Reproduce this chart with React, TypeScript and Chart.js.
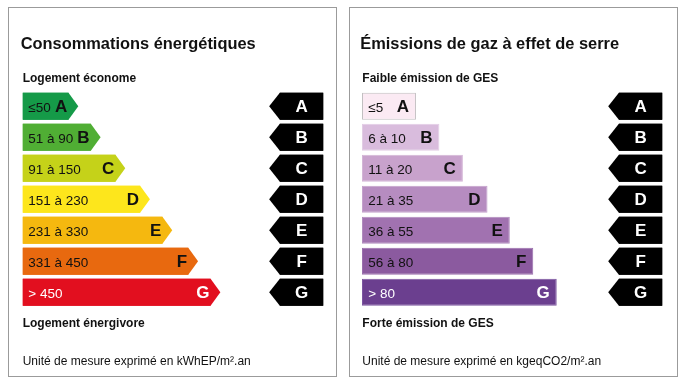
import React, { useEffect, useRef } from "react";
import { Chart, registerables } from "chart.js";

Chart.register(...registerables);

const FONT = '"Liberation Sans", Arial, Helvetica, sans-serif';

// ---- data ----
const classes = ["A", "B", "C", "D", "E", "F", "G"];

const energyTitle = "Consommations énergétiques";
const energyTop = "Logement économe";
const energyBottom = "Logement énergivore";
const energyUnit = "Unité de mesure exprimé en kWhEP/m².an";
const energyRanges = ["≤50", "51 à 90", "91 à 150", "151 à 230", "231 à 330", "331 à 450", "> 450"];
const energyLengths = [1.95, 2.9, 3.95, 5, 5.95, 7.05, 8];

const gesTitle = "Émissions de gaz à effet de serre";
const gesTop = "Faible émission de GES";
const gesBottom = "Forte émission de GES";
const gesUnit = "Unité de mesure exprimé en kgeqCO2/m².an";
const gesRanges = ["≤5", "6 à 10", "11 à 20", "21 à 35", "36 à 55", "56 à 80", "> 80"];
const gesLengths = [2.3, 3.3, 4.3, 5.35, 6.3, 7.3, 8.3];

const markerSpan = [10.95, 12.8];
const scaleMax = 12.8;

// ---- styles ----
const energyColors = ["#159a48", "#50ae34", "#c5d219", "#fde61c", "#f5b80f", "#e8690f", "#e20f1f"];
const energyText = ["#111", "#111", "#111", "#111", "#111", "#111", "#fff"];
const gesColors = ["#fbeaf3", "#d9bcdd", "#c8a2cc", "#b68cc0", "#a172b0", "#8b5a9f", "#6b3f8f"];
const gesBorders = ["#c2bfc1", "#e2cde5", "#d3b5d6", "#c4a1cc", "#b08bbd", "#9a6fad", "#7c55a0"];
const gesText = ["#111", "#111", "#111", "#111", "#111", "#111", "#fff"];

type PanelOpts = {
  title: string;
  top: string;
  bottom: string;
  unit: string;
  ranges: string[];
  colors: string[];
  textColors: string[];
  tip: number;
  rangeInset: number;
  letterInset: number;
  textX: number;
  titleX: number;
};

const dpePlugin = {
  id: "dpe",
  afterDatasetsDraw(chart: any, _args: any, o: PanelOpts) {
    const ctx: CanvasRenderingContext2D = chart.ctx;
    const bars = chart.getDatasetMeta(0).data;
    const marks = chart.getDatasetMeta(1).data;
    ctx.save();
    bars.forEach((el: any, i: number) => {
      const { x, y, base, height } = el.getProps(["x", "y", "base", "height"], true);
      const t = y - height / 2;
      const b = y + height / 2;
      if (o.tip > 0) {
        ctx.fillStyle = o.colors[i];
        ctx.beginPath();
        ctx.moveTo(base, t);
        ctx.lineTo(x, t);
        ctx.lineTo(x + o.tip, y);
        ctx.lineTo(x, b);
        ctx.lineTo(base, b);
        ctx.closePath();
        ctx.fill();
      }
      ctx.fillStyle = o.textColors[i];
      ctx.textAlign = "left";
      ctx.textBaseline = "alphabetic";
      ctx.font = `13.5px ${FONT}`;
      ctx.fillText(o.ranges[i], base + o.rangeInset, y + 5.3);
      ctx.textAlign = "right";
      ctx.font = `bold 17px ${FONT}`;
      ctx.fillText(classes[i], x - o.letterInset, y + 6.1);
    });
    marks.forEach((el: any, i: number) => {
      const { x, y, base, height } = el.getProps(["x", "y", "base", "height"], true);
      const l = Math.min(x, base);
      const r = Math.max(x, base);
      const t = y - height / 2;
      const b = y + height / 2;
      ctx.fillStyle = "#000";
      ctx.beginPath();
      ctx.moveTo(r, t);
      ctx.lineTo(l, t);
      ctx.lineTo(l - 10.7, y);
      ctx.lineTo(l, b);
      ctx.lineTo(r, b);
      ctx.closePath();
      ctx.fill();
      ctx.fillStyle = "#fff";
      ctx.textAlign = "center";
      ctx.font = `bold 17px ${FONT}`;
      ctx.fillText(classes[i], (l + r) / 2, y + 6);
    });
    // texts
    ctx.fillStyle = "#111";
    ctx.textAlign = "left";
    ctx.font = `bold 16.4px ${FONT}`;
    ctx.fillText(o.title, o.titleX, 41.3);
    ctx.font = `bold 12px ${FONT}`;
    ctx.fillText(o.top, o.textX, 73.7);
    ctx.fillText(o.bottom, o.textX, 319.3);
    ctx.font = `12px ${FONT}`;
    ctx.fillText(o.unit, o.textX, 356.5);
    ctx.restore();
  },
};

function makeConfig(
  lengths: number[],
  colors: string[],
  borders: string[] | null,
  padding: { left: number; right: number },
  opts: PanelOpts
): any {
  return {
    type: "bar",
    data: {
      labels: classes,
      datasets: [
        {
          data: lengths,
          backgroundColor: colors,
          borderColor: borders || colors,
          borderWidth: borders ? 1 : 0,
          grouped: false,
          barPercentage: 0.87,
          categoryPercentage: 1,
          borderSkipped: false,
        },
        {
          data: classes.map(() => markerSpan),
          backgroundColor: "#000",
          borderWidth: 0,
          grouped: false,
          barPercentage: 0.87,
          categoryPercentage: 1,
        },
      ],
    },
    options: {
      indexAxis: "y",
      responsive: false,
      animation: false,
      events: [],
      layout: { padding: { left: padding.left, right: padding.right, top: 82.8, bottom: 68.3 } },
      scales: {
        x: { type: "linear", min: 0, max: scaleMax, display: false },
        y: { type: "category", display: false, offset: true },
      },
      plugins: {
        legend: { display: false },
        tooltip: { enabled: false },
        title: { display: false },
        dpe: opts,
      },
    },
    plugins: [dpePlugin],
  };
}

function Panel({ left, config }: { left: number; config: () => any }) {
  const ref = useRef<HTMLCanvasElement>(null);
  useEffect(() => {
    const chart = new Chart(ref.current as HTMLCanvasElement, config());
    return () => chart.destroy();
  }, []);
  return (
    <div
      style={{
        position: "absolute",
        left,
        top: 7,
        width: 329,
        height: 370,
        border: "1px solid #9b9b9b",
        boxSizing: "border-box",
        background: "#fff",
      }}
    >
      <canvas ref={ref} width={327} height={368} style={{ display: "block" }} />
    </div>
  );
}

export default function App() {
  return (
    <div style={{ position: "absolute", left: 0, top: 0, width: 686, height: 380, background: "#fff" }}>
      <Panel
        left={8}
        config={() =>
          makeConfig(energyLengths, energyColors, null, { left: 13.7, right: 12.7 }, {
            title: energyTitle,
            top: energyTop,
            bottom: energyBottom,
            unit: energyUnit,
            ranges: energyRanges,
            colors: energyColors,
            textColors: energyText,
            tip: 9.8,
            rangeInset: 5.6,
            letterInset: 1.2,
            textX: 13.7,
            titleX: 11.7,
          })
        }
      />
      <Panel
        left={349}
        config={() =>
          makeConfig(gesLengths, gesColors, gesBorders, { left: 12, right: 14.7 }, {
            title: gesTitle,
            top: gesTop,
            bottom: gesBottom,
            unit: gesUnit,
            ranges: gesRanges,
            colors: gesColors,
            textColors: gesText,
            tip: 0,
            rangeInset: 6.3,
            letterInset: 7,
            textX: 12.3,
            titleX: 10.3,
          })
        }
      />
    </div>
  );
}
